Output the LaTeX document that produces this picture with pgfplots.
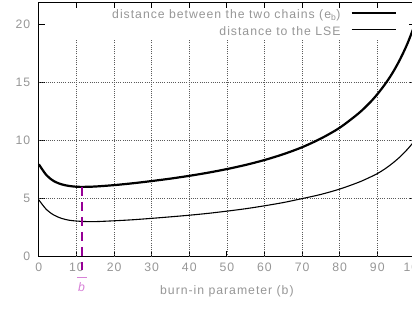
\documentclass[border=0pt]{standalone}
\usepackage{fontspec}
\setmainfont{Liberation Sans}[LetterSpace=8]
\usepackage{pgfplots}
\pgfplotsset{compat=1.18}
\definecolor{tickgray}{RGB}{150,150,150}
\definecolor{griddark}{RGB}{90,90,90}
\definecolor{magdark}{RGB}{150,0,150}
\definecolor{maglight}{RGB}{215,130,215}
\newcommand{\fs}{\fontsize{12.3}{14}\selectfont}
\begin{document}
\begin{tikzpicture}
\begin{axis}[
  x=3.76bp, y=11.62bp,
  xmin=0, xmax=100, ymin=0, ymax=21.9,
  clip=false,
  axis line style={black, line width=0.9bp},
  xtick={0,10,...,100}, ytick={0,5,...,20},
  tick style={black, line width=0.9bp},
  major tick length=6bp,
  tick align=inside,
  /pgf/number format/assume math mode=true,
  tick label style={font=\fs, text=tickgray, inner sep=0pt},
  yticklabel style={xshift=-8.5bp},
  xticklabel style={yshift=-6.5bp},
  xlabel={burn-in parameter (b)},
  xlabel style={at={(axis description cs:0.5,0)}, anchor=base, yshift=-37.5bp, inner sep=0pt, font=\fs, text=tickgray},
  legend cell align=right,
  legend plot pos=right,
  legend image code/.code={\draw[#1] (0bp,3bp) -- (44bp,3bp);},
  legend style={at={(axis cs:95.2,21.27)}, anchor=north east, draw=none, fill=none, inner sep=0pt,
    font=\fs, text=tickgray, row sep=5bp, column sep=10bp,
    nodes={inner sep=0pt, text height=9bp, text depth=3bp}},
]
\coordinate (O) at (axis cs:0,0);
% grid (the legend area at the top is blank, as in the original)
\pgfplotsinvokeforeach{10,20,...,90}{
  \draw[griddark, line width=0.8bp, dash pattern=on 0.8bp off 1.4bp] (axis cs:#1,0) -- (axis cs:#1,18.7);
}
\pgfplotsinvokeforeach{5,10,15}{
  \draw[griddark, line width=0.8bp, dash pattern=on 0.8bp off 1.4bp] (axis cs:0,#1) -- (axis cs:100,#1);
}
\addplot[black, line width=2.2bp, smooth] coordinates {
(0,7.95) (2,7.02) (4,6.50) (6,6.23) (8,6.09) (10,6.02) (12,6.01) (15,6.04)
(20,6.16) (25,6.32) (30,6.51) (35,6.72) (40,6.96) (45,7.23) (50,7.54)
(55,7.90) (60,8.32) (65,8.82) (70,9.42) (75,10.17) (80,11.10) (85,12.33)
(88,13.25) (90,13.98) (92,14.82) (94,15.79) (96,16.95) (98,18.33) (100,20.0)
};
\addlegendentry{distance between the two chains (e\textsubscript{b})}
\addplot[black, line width=1.1bp, smooth] coordinates {
(0,4.88) (2,4.06) (4,3.58) (6,3.30) (8,3.14) (10,3.07) (12,3.03) (15,3.02)
(20,3.09) (25,3.18) (30,3.30) (35,3.43) (40,3.57) (45,3.73) (50,3.92)
(55,4.13) (60,4.38) (65,4.66) (70,5.00) (75,5.36) (80,5.82) (85,6.40)
(88,6.83) (90,7.15) (92,7.55) (94,8.03) (96,8.58) (98,9.24) (100,10.0)
};
\addlegendentry{distance to the LSE}
\addplot[magdark, line width=2.6bp, dash pattern=on 9bp off 6bp, forget plot] coordinates {(11.5,6.0) (11.5,-1.15)};
\node[anchor=north, inner sep=0pt, text=maglight, font=\fs] at (axis cs:11.5,-1.75) {\shortstack[c]{\textcolor{maglight}{\rule{10bp}{1bp}}\\[1bp]\textit{b}}};
\end{axis}
\pgfresetboundingbox
\path (O) ++(-38.9bp,-52.3bp) rectangle ++(412bp,309bp);
\end{tikzpicture}
\end{document}
